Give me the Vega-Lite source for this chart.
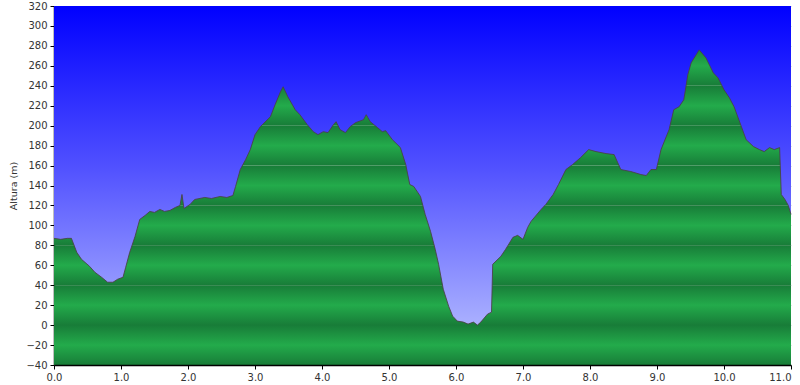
{
  "$schema": "https://vega.github.io/schema/vega-lite/v6.json",
  "autosize": {"type": "none"},
  "width": 737,
  "height": 359,
  "padding": {"left": 54, "top": 6, "right": 9, "bottom": 20},
  "background": "#ffffff",
  "config": {
    "view": {"stroke": null},
    "axis": {"labelFont": "DejaVu Sans", "labelFontSize": 10, "labelColor": "#333333", "titleFont": "DejaVu Sans", "titleFontSize": 9.5, "titleFontWeight": "normal", "titleColor": "#333333", "domainColor": "#000000", "tickColor": "#000000", "tickSize": 4, "domainWidth": 1.5, "labelOverlap": false},
    "axisY": {"values": [-40, -20, 0, 20, 40, 60, 80, 100, 120, 140, 160, 180, 200, 220, 240, 260, 280, 300, 320], "grid": true, "gridColor": "#000000", "gridOpacity": 0.2, "zindex": 1, "labelPadding": 3, "titlePadding": 7, "labelOverlap": false}
  },
  "datasets": {
    "bands": [
      {"lo": -40, "hi": 0}, {"lo": 0, "hi": 40}, {"lo": 40, "hi": 80}, {"lo": 80, "hi": 120},
      {"lo": 120, "hi": 160}, {"lo": 160, "hi": 200}, {"lo": 200, "hi": 240}, {"lo": 240, "hi": 280}, {"lo": 280, "hi": 320}
    ],
    "profile": [
      {"d": 0.0, "h": 87}, {"d": 0.1, "h": 86}, {"d": 0.2, "h": 87}, {"d": 0.26, "h": 87},
      {"d": 0.34, "h": 73}, {"d": 0.41, "h": 66}, {"d": 0.53, "h": 59}, {"d": 0.61, "h": 53},
      {"d": 0.71, "h": 48}, {"d": 0.8, "h": 43}, {"d": 0.88, "h": 43}, {"d": 0.95, "h": 46},
      {"d": 1.03, "h": 48}, {"d": 1.07, "h": 58}, {"d": 1.13, "h": 73}, {"d": 1.21, "h": 89},
      {"d": 1.28, "h": 106}, {"d": 1.36, "h": 110}, {"d": 1.43, "h": 114}, {"d": 1.5, "h": 113},
      {"d": 1.58, "h": 116}, {"d": 1.65, "h": 114}, {"d": 1.73, "h": 115}, {"d": 1.81, "h": 118},
      {"d": 1.88, "h": 120}, {"d": 1.91, "h": 131}, {"d": 1.94, "h": 117}, {"d": 2.03, "h": 121},
      {"d": 2.1, "h": 126}, {"d": 2.25, "h": 128}, {"d": 2.35, "h": 127}, {"d": 2.48, "h": 129},
      {"d": 2.58, "h": 128}, {"d": 2.67, "h": 130}, {"d": 2.71, "h": 139}, {"d": 2.78, "h": 156},
      {"d": 2.86, "h": 166}, {"d": 2.93, "h": 176}, {"d": 3.0, "h": 191}, {"d": 3.08, "h": 199},
      {"d": 3.23, "h": 209}, {"d": 3.3, "h": 221}, {"d": 3.38, "h": 234}, {"d": 3.42, "h": 239},
      {"d": 3.49, "h": 229}, {"d": 3.6, "h": 216}, {"d": 3.67, "h": 211}, {"d": 3.78, "h": 201},
      {"d": 3.87, "h": 194}, {"d": 3.94, "h": 191}, {"d": 4.02, "h": 194}, {"d": 4.09, "h": 193},
      {"d": 4.17, "h": 201}, {"d": 4.21, "h": 204}, {"d": 4.27, "h": 196}, {"d": 4.35, "h": 193},
      {"d": 4.42, "h": 199}, {"d": 4.5, "h": 203}, {"d": 4.62, "h": 206}, {"d": 4.66, "h": 211},
      {"d": 4.72, "h": 204}, {"d": 4.83, "h": 198}, {"d": 4.9, "h": 194}, {"d": 4.95, "h": 195},
      {"d": 5.05, "h": 186}, {"d": 5.17, "h": 178}, {"d": 5.25, "h": 161}, {"d": 5.31, "h": 141},
      {"d": 5.37, "h": 139}, {"d": 5.47, "h": 129}, {"d": 5.54, "h": 111}, {"d": 5.62, "h": 94},
      {"d": 5.69, "h": 76}, {"d": 5.74, "h": 61}, {"d": 5.81, "h": 36}, {"d": 5.89, "h": 19},
      {"d": 5.95, "h": 9}, {"d": 6.02, "h": 4}, {"d": 6.11, "h": 3}, {"d": 6.18, "h": 1},
      {"d": 6.26, "h": 3}, {"d": 6.32, "h": 0}, {"d": 6.37, "h": 3}, {"d": 6.47, "h": 11},
      {"d": 6.53, "h": 13}, {"d": 6.548, "h": 61}, {"d": 6.67, "h": 69}, {"d": 6.74, "h": 76},
      {"d": 6.85, "h": 88}, {"d": 6.92, "h": 90}, {"d": 7.0, "h": 86}, {"d": 7.07, "h": 98},
      {"d": 7.12, "h": 104}, {"d": 7.27, "h": 116}, {"d": 7.34, "h": 121}, {"d": 7.45, "h": 131},
      {"d": 7.53, "h": 141}, {"d": 7.64, "h": 156}, {"d": 7.74, "h": 161}, {"d": 7.86, "h": 168},
      {"d": 7.98, "h": 176}, {"d": 8.09, "h": 174}, {"d": 8.24, "h": 172}, {"d": 8.36, "h": 171},
      {"d": 8.46, "h": 156}, {"d": 8.61, "h": 154}, {"d": 8.76, "h": 151}, {"d": 8.84, "h": 150},
      {"d": 8.91, "h": 156}, {"d": 8.99, "h": 156}, {"d": 9.06, "h": 176}, {"d": 9.18, "h": 196},
      {"d": 9.25, "h": 216}, {"d": 9.33, "h": 219}, {"d": 9.4, "h": 226}, {"d": 9.46, "h": 251},
      {"d": 9.51, "h": 263}, {"d": 9.63, "h": 276}, {"d": 9.73, "h": 268}, {"d": 9.84, "h": 253},
      {"d": 9.91, "h": 248}, {"d": 10.0, "h": 236}, {"d": 10.08, "h": 228}, {"d": 10.15, "h": 219},
      {"d": 10.26, "h": 199}, {"d": 10.33, "h": 186}, {"d": 10.44, "h": 179}, {"d": 10.53, "h": 176},
      {"d": 10.6, "h": 174}, {"d": 10.68, "h": 178}, {"d": 10.75, "h": 176}, {"d": 10.83, "h": 178},
      {"d": 10.855, "h": 131}, {"d": 10.91, "h": 126}, {"d": 10.96, "h": 120}, {"d": 11.0, "h": 111}
    ]
  },
  "layer": [
    {
      "data": {"name": "bands"},
      "mark": {"type": "rect", "color": {"gradient": "linear", "x1": 0, "y1": 0, "x2": 0, "y2": 1, "stops": [{"offset": 0, "color": "#187c38"}, {"offset": 0.5, "color": "#23ab4b"}, {"offset": 1, "color": "#187c38"}]}},
      "encoding": {
        "y": {"field": "hi", "type": "quantitative", "scale": {"domain": [-40, 320], "nice": false, "zero": false},
          "axis": {"title": "Altura (m)", "values": [-40, -20, 0, 20, 40, 60, 80, 100, 120, 140, 160, 180, 200, 220, 240, 260, 280, 300, 320]}},
        "y2": {"field": "lo"}
      }
    },
    {
      "data": {"name": "profile"},
      "mark": {"type": "area", "interpolate": "linear", "color": {"gradient": "linear", "x1": 0, "y1": 0, "x2": 0, "y2": 1, "stops": [{"offset": 0, "color": "#0000ff"}, {"offset": 0.5, "color": "#5050ff"}, {"offset": 1, "color": "#aab0ff"}]}},
      "encoding": {
        "x": {"field": "d", "type": "quantitative", "scale": {"domain": [0, 11], "nice": false, "zero": false},
          "axis": {"values": [0, 1, 2, 3, 4, 5, 6, 7, 8, 9, 10, 11], "format": ".1f", "title": null, "grid": false, "zindex": 1, "labelPadding": 3,
            "labelAlign": {"condition": {"test": "datum.value >= 11", "value": "right"}, "value": "center"}}},
        "y": {"field": "h", "type": "quantitative", "axis": {"title": "Altura (m)", "values": [-40, -20, 0, 20, 40, 60, 80, 100, 120, 140, 160, 180, 200, 220, 240, 260, 280, 300, 320]}},
        "y2": {"datum": 320}
      }
    },
    {
      "data": {"name": "profile"},
      "mark": {"type": "line", "interpolate": "linear", "color": "#4a3f45", "strokeWidth": 1, "opacity": 0.85},
      "encoding": {
        "x": {"field": "d", "type": "quantitative"},
        "y": {"field": "h", "type": "quantitative", "axis": {"title": "Altura (m)", "values": [-40, -20, 0, 20, 40, 60, 80, 100, 120, 140, 160, 180, 200, 220, 240, 260, 280, 300, 320]}}
      }
    }
  ]
}
